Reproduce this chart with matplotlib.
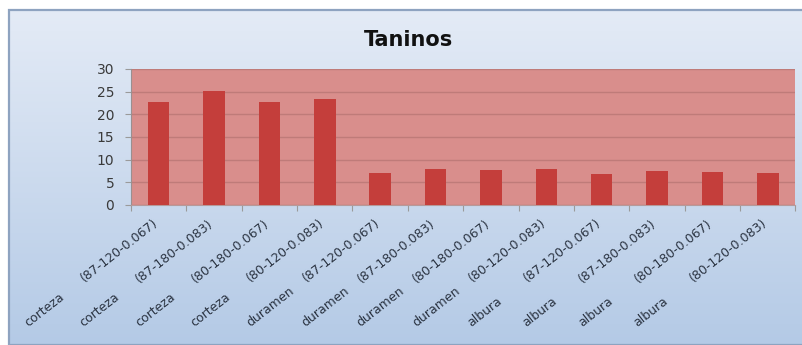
import numpy as np
import matplotlib
matplotlib.use("Agg")
import matplotlib.pyplot as plt
from matplotlib.patches import Rectangle
from matplotlib.colors import LinearSegmentedColormap

plt.rcParams['font.family'] = ['DejaVu Sans']

# Data
parts = ["corteza", "corteza", "corteza", "corteza",
         "duramen", "duramen", "duramen", "duramen",
         "albura", "albura", "albura", "albura"]
treatments = ["(87-120-0.067)", "(87-180-0.083)", "(80-180-0.067)", "(80-120-0.083)",
              "(87-120-0.067)", "(87-180-0.083)", "(80-180-0.067)", "(80-120-0.083)",
              "(87-120-0.067)", "(87-180-0.083)", "(80-180-0.067)", "(80-120-0.083)"]
taninos = [22.7, 25.2, 22.8, 23.3, 7.1, 7.9, 7.7, 7.9, 6.9, 7.5, 7.2, 7.1]
y_ticks = [0, 5, 10, 15, 20, 25, 30]

W, H = 803, 345
fig = plt.figure(figsize=(W / 100, H / 100), dpi=100)
fig.patch.set_facecolor("white")

# Chart area background: soft blue vertical gradient with a thin frame
bg = fig.add_axes([9 / W, 0, 1 - 9 / W, (H - 10) / H], zorder=-5)
grad = np.linspace(0, 1, 256).reshape(-1, 1)
cmap = LinearSegmentedColormap.from_list("bg", ["#e4ebf6", "#b4cae6"])
bg.imshow(grad, aspect="auto", cmap=cmap, extent=[0, 1, 0, 1], origin="upper")
bg.set_xlim(0, 1)
bg.set_ylim(0, 1)
bg.set_axis_off()
bg.add_patch(Rectangle((0, 0), 1.01, 1, fill=False, edgecolor="#8ea3c0",
                       linewidth=1.6, transform=bg.transAxes, clip_on=False))

# Plot area
ax = fig.add_axes([131 / W, (H - 205) / H, (795.5 - 131) / W, (205 - 69) / H])
ax.set_facecolor("#d98e8c")
x = np.arange(len(taninos))
ax.bar(x, taninos, width=0.39, color="#c43e3b", zorder=3)
ax.set_xlim(-0.5, len(taninos) - 0.5)
ax.set_ylim(0, 30)
ax.set_yticks(y_ticks)
ax.yaxis.grid(True, color="#bf7b79", linewidth=1.0, zorder=1)
ax.set_axisbelow(True)

for s in ["top", "right"]:
    ax.spines[s].set_visible(False)
ax.spines["left"].set_color("#9a8f90")
ax.spines["bottom"].set_color("#b59a9a")
ax.tick_params(axis="y", direction="out", length=4, color="#9a9a9a",
               labelsize=10, labelcolor="#3a3a3a", pad=8)

# Category boundary ticks on the x axis
ax.set_xticks(np.arange(-0.5, len(taninos), 1.0))
ax.set_xticklabels([])
ax.tick_params(axis="x", direction="out", length=4, color="#9a9a9a")

# Rotated two-part category labels
ang = 38
lab_color = "#2b3442"
for i, (p, t) in enumerate(zip(parts, treatments)):
    ax.annotate(t, xy=(i, 0), xycoords=("data", "axes fraction"),
                xytext=(0.0, -14.1), textcoords="offset points",
                rotation=ang, rotation_mode="anchor", ha="right", va="baseline",
                fontsize=9, color=lab_color)
    ax.annotate(p, xy=(i, 0), xycoords=("data", "axes fraction"),
                xytext=(-93.9, -88.0), textcoords="offset points",
                rotation=ang, rotation_mode="anchor", ha="left", va="baseline",
                fontsize=9, color=lab_color)

fig.text(409 / W, 1 - 40 / H, "Taninos", ha="center", va="center",
         fontsize=15, fontweight="bold", color="#111111")

fig.savefig("out.png", dpi=100)
